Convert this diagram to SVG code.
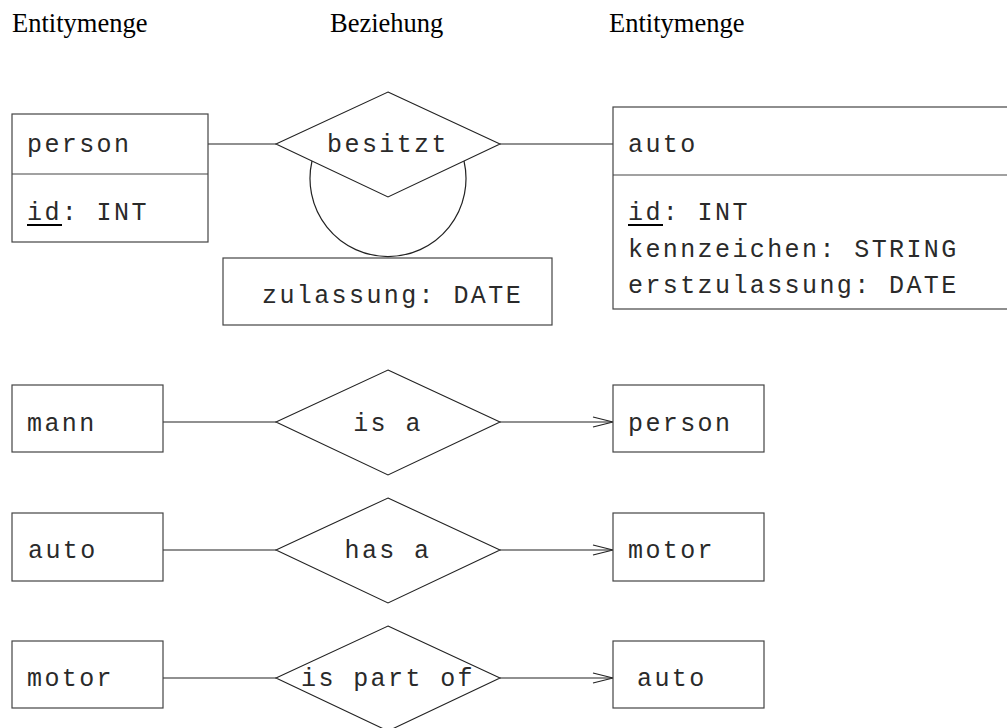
<svg xmlns="http://www.w3.org/2000/svg" width="1007" height="728" viewBox="0 0 1007 728">
<style>
.box{fill:#fff;stroke:#444;stroke-width:1.2}
.dia{fill:#fff;stroke:#222;stroke-width:1.1}
.ln{fill:none;stroke:#222;stroke-width:1.2}
.mono{font-family:"Liberation Mono","Courier New",monospace;font-size:25px;letter-spacing:2.4px;fill:#2a2a2a}
.hdr{font-family:"Liberation Serif","Times New Roman",serif;font-size:26.5px;fill:#000}
.ul{stroke:#000;stroke-width:2}
</style>
<defs>
<marker id="open" markerUnits="userSpaceOnUse" markerWidth="24" markerHeight="14" refX="21" refY="6" orient="auto">
<path d="M1,1 L21,6 L1,11" fill="none" stroke="#222" stroke-width="1.2"/>
</marker>
</defs>
<rect width="1007" height="728" fill="#fff"/>
<g id="headers">
<text class="hdr" x="12" y="32">Entitymenge</text>
<text class="hdr" x="330" y="32">Beziehung</text>
<text class="hdr" x="609" y="32">Entitymenge</text>
</g>
<g id="connectors">
<line class="ln" x1="208" y1="144" x2="276" y2="144"/>
<line class="ln" x1="500" y1="144" x2="613" y2="144"/>
<path class="ln" d="M312,161 A78,78 0 1,0 464,161"/>
<line class="ln" x1="163" y1="422" x2="276" y2="422"/>
<line class="ln" x1="500" y1="422" x2="613" y2="422" marker-end="url(#open)"/>
<line class="ln" x1="163" y1="550" x2="276" y2="550"/>
<line class="ln" x1="500" y1="550" x2="613" y2="550" marker-end="url(#open)"/>
<line class="ln" x1="163" y1="678" x2="276" y2="678"/>
<line class="ln" x1="500" y1="678" x2="613" y2="678" marker-end="url(#open)"/>
</g>
<g id="person-entity">
<rect class="box" x="12" y="114" width="196" height="128"/>
<line class="box" x1="12" y1="174" x2="208" y2="174"/>
<text class="mono" x="27" y="152">person</text>
<text class="mono" x="27" y="220">id: INT</text>
<line class="ul" x1="27" y1="225" x2="62" y2="225"/>
</g>
<g id="besitzt-rel">
<polygon class="dia" points="388,92 500,144 388,197 276,144" style="fill:none"/>
<text class="mono" x="388" y="152" text-anchor="middle">besitzt</text>
</g>
<g id="zulassung-attr">
<rect class="box" x="223" y="258" width="329" height="67"/>
<text class="mono" x="262" y="303">zulassung: DATE</text>
</g>
<g id="auto-entity">
<rect class="box" x="613" y="107" width="420" height="202"/>
<line class="box" x1="613" y1="175" x2="1033" y2="175"/>
<text class="mono" x="628" y="152">auto</text>
<text class="mono" x="628" y="220">id: INT</text>
<line class="ul" x1="628" y1="225" x2="663" y2="225"/>
<text class="mono" x="628" y="257">kennzeichen: STRING</text>
<text class="mono" x="628" y="293">erstzulassung: DATE</text>
</g>
<g id="mann">
<rect class="box" x="12" y="385" width="151" height="67"/>
<text class="mono" x="27" y="431">mann</text>
</g>
<g id="is-a">
<polygon class="dia" points="388,370 500,422 388,475 276,422"/>
<text class="mono" x="388" y="431" text-anchor="middle">is a</text>
</g>
<g id="person-target">
<rect class="box" x="613" y="385" width="151" height="67"/>
<text class="mono" x="628" y="431">person</text>
</g>
<g id="auto-source">
<rect class="box" x="12" y="513" width="151" height="68"/>
<text class="mono" x="28" y="558">auto</text>
</g>
<g id="has-a">
<polygon class="dia" points="388,498 500,550 388,603 276,550"/>
<text class="mono" x="388" y="558" text-anchor="middle">has a</text>
</g>
<g id="motor-target">
<rect class="box" x="613" y="513" width="151" height="68"/>
<text class="mono" x="628" y="558">motor</text>
</g>
<g id="motor-source">
<rect class="box" x="12" y="641" width="151" height="67"/>
<text class="mono" x="27" y="686">motor</text>
</g>
<g id="is-part-of">
<polygon class="dia" points="388,626 500,678 388,731 276,678"/>
<text class="mono" x="388" y="686" text-anchor="middle">is part of</text>
</g>
<g id="auto-target">
<rect class="box" x="613" y="641" width="151" height="67"/>
<text class="mono" x="637" y="686">auto</text>
</g>
</svg>
